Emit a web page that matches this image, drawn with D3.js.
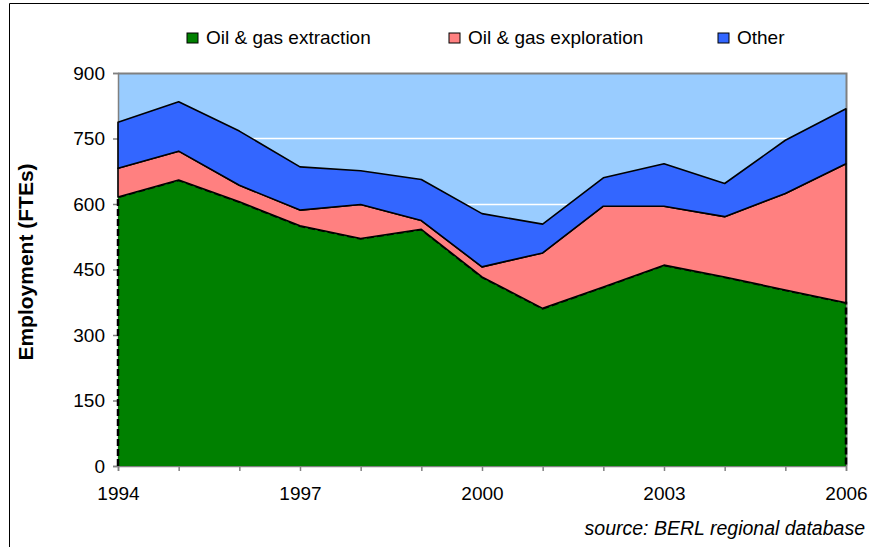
<!DOCTYPE html>
<html>
<head>
<meta charset="utf-8">
<style>
body { margin: 0; background: #fff; }
text { font-family: Arial, "Liberation Sans", sans-serif; }
</style>
</head>
<body>
<svg width="869" height="547"></svg>
<script src="https://cdn.jsdelivr.net/npm/d3@7"></script>
<script>

// data (FTEs)
var years = [1994,1995,1996,1997,1998,1999,2000,2001,2002,2003,2004,2005,2006];
var extraction = [616,655,605,550,521,542,433,361,410,460,433,403,374];
var exploration = [66,66,38,36,78,20,23,127,185,135,138,221,318];
var other = [105,113,124,99,77,94,122,66,65,97,76,122,126];
var seriesNames = ["Oil & gas extraction", "Oil & gas exploration", "Other"];
var seriesColors = ["#008000", "#ff8080", "#3366ff"];
var yTicks = [0,150,300,450,600,750,900];
var xLabels = [1994,1997,2000,2003,2006];

var svg = d3.select("svg"),
    plotL = 118, plotR = 846, plotT = 73, plotB = 466;

var rows = years.map(function(y, i) {
  return { year: y, a: extraction[i], b: exploration[i], c: other[i] };
});
var stacked = d3.stack().keys(["a","b","c"])(rows);

var x = d3.scaleLinear().domain([1994, 2006]).range([plotL, plotR]);
var y = d3.scaleLinear().domain([0, 900]).range([plotB, plotT]);

// outer frame (only left and top show)
svg.append("path")
    .attr("d", "M9.5,547V3.5H869")
    .attr("fill", "none")
    .attr("stroke", "#000")
    .attr("stroke-width", 1);

// plot background
svg.append("rect")
    .attr("x", plotL).attr("y", plotT)
    .attr("width", plotR - plotL).attr("height", plotB - plotT)
    .attr("fill", "#99ccff");

// gridlines
svg.append("g").selectAll("line")
  .data(yTicks.filter(function(d) { return d > 0 && d < 900; }))
  .enter().append("line")
    .attr("x1", plotL).attr("x2", plotR)
    .attr("y1", function(d) { return Math.round(y(d)) + 0.5; })
    .attr("y2", function(d) { return Math.round(y(d)) + 0.5; })
    .attr("stroke", "#fff")
    .attr("stroke-width", 1.5);

// plot frame top/right
svg.append("path")
    .attr("d", "M" + plotL + "," + (plotT + 0.5) + "H" + (plotR + 0.5) + "V" + plotB)
    .attr("fill", "none")
    .attr("stroke", "#808080")
    .attr("stroke-width", 2);

// axes
var yAxis = svg.append("g")
    .attr("transform", "translate(" + plotL + ",0)")
    .call(d3.axisLeft(y).tickValues(yTicks).tickSize(5).tickPadding(8));
var xAxis = svg.append("g")
    .attr("transform", "translate(0," + plotB + ")")
    .call(d3.axisBottom(x).tickValues(years).tickSize(5)
      .tickFormat(function(d) { return xLabels.indexOf(d) >= 0 ? d : ""; }));

[yAxis, xAxis].forEach(function(g) {
  g.selectAll(".domain, line").attr("stroke", "#808080").attr("stroke-width", 1.5);
  g.selectAll("text")
    .attr("fill", "#000")
    .style("font-family", "Arial, 'Liberation Sans', sans-serif")
    .style("font-size", "19px");
});
xAxis.selectAll("text").attr("y", 34).attr("dy", null);

var area = d3.area()
    .x(function(d) { return x(d.data.year); })
    .y0(function(d) { return y(d[0]); })
    .y1(function(d) { return y(d[1]); });

var layers = svg.append("g");

// extraction: fill, then dashed outline over top and both ends (not the base)
var ext = stacked[0];
layers.append("path")
    .attr("d", area(ext))
    .attr("fill", seriesColors[0]);
layers.append("path")
    .attr("d", "M" + x(years[0]) + "," + y(0) +
      d3.line().x(function(d) { return x(d.data.year); }).y(function(d) { return y(d[1]); })(ext).replace(/^M/, "L") +
      "L" + x(years[years.length - 1]) + "," + (y(0) - 1))
    .attr("fill", "none")
    .attr("stroke", "#000")
    .attr("stroke-width", 2.5)
    .attr("stroke-dasharray", "7,3");

layers.selectAll("path.upper")
  .data(stacked.slice(1))
  .enter().append("path")
    .attr("class", "upper")
    .attr("d", function(d) { return area(d) + "Z"; })
    .attr("fill", function(d, i) { return seriesColors[i + 1]; })
    .attr("stroke", "#000")
    .attr("stroke-width", 1.6)
    .attr("stroke-linejoin", "round");

// y axis title
svg.append("text")
    .attr("transform", "translate(33,262) rotate(-90)")
    .attr("text-anchor", "middle")
    .style("font-size", "21px")
    .style("font-weight", "bold")
    .text("Employment (FTEs)");

// legend
var legendX = [187, 449, 718];
var legend = svg.append("g").selectAll("g")
  .data(seriesNames)
  .enter().append("g")
    .attr("transform", function(d, i) { return "translate(" + legendX[i] + ",33)"; });
legend.append("rect")
    .attr("width", 11).attr("height", 10)
    .attr("fill", function(d, i) { return seriesColors[i]; })
    .attr("stroke", "#000");
legend.append("text")
    .attr("x", 19).attr("y", 10.5)
    .style("font-size", "19px")
    .text(function(d) { return d; });

// source note
svg.append("text")
    .attr("x", 865).attr("y", 535)
    .attr("text-anchor", "end")
    .style("font-size", "19.5px")
    .style("font-style", "italic")
    .text("source: BERL regional database");

</script>
</body>
</html>
